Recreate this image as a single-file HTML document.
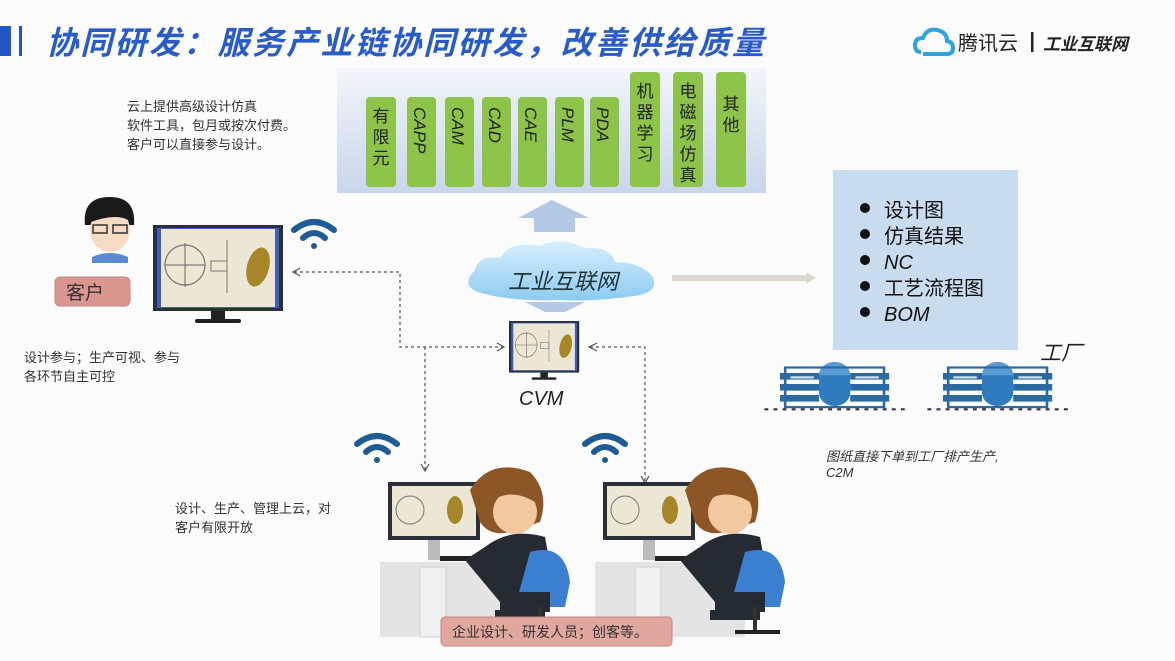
<!DOCTYPE html>
<html><head><meta charset="utf-8"><style>
body{margin:0;width:1175px;height:661px;overflow:hidden;background:#fbfbfb;font-family:"Liberation Sans","Noto Sans CJK SC",sans-serif;}
svg{position:absolute;left:0;top:0}
</style></head><body>
<svg width="1175" height="661" viewBox="0 0 1175 661" font-family="Liberation Sans, Noto Sans CJK SC, sans-serif">
<defs>
<linearGradient id="pg" x1="0" y1="0" x2="0" y2="1"><stop offset="0" stop-color="#f2f5fa"/><stop offset="1" stop-color="#c9d6ea"/></linearGradient>
<linearGradient id="cl" x1="0" y1="0" x2="0" y2="1"><stop offset="0" stop-color="#d8efff"/><stop offset="1" stop-color="#8ccbf0"/></linearGradient>
<g id="mon">
<rect x="0" y="0" width="130" height="86" fill="#2b2f3a"/>
<rect x="4" y="3" width="122" height="80" fill="#3b5fbf"/>
<rect x="8" y="4" width="114" height="78" fill="#ece7d5"/>
<circle cx="32" cy="40" r="20" fill="none" stroke="#777" stroke-width="1.2"/>
<line x1="12" y1="40" x2="52" y2="40" stroke="#666"/><line x1="32" y1="18" x2="32" y2="62" stroke="#666"/>
<rect x="58" y="36" width="16" height="10" fill="none" stroke="#777"/><line x1="74" y1="15" x2="74" y2="68" stroke="#777"/>
<ellipse cx="105" cy="42" rx="11" ry="20" fill="#a7862a" transform="rotate(15 105 42)"/>
<rect x="58" y="86" width="14" height="8" fill="#222"/><rect x="42" y="94" width="46" height="4" rx="2" fill="#222"/>
</g>
<g id="wifi" fill="none" stroke="#1f5c95" stroke-linecap="round">
<path d="M-20 -6 Q0 -22 20 -6" stroke-width="6"/><path d="M-11 2 Q0 -8 11 2" stroke-width="6"/><circle cx="0" cy="10" r="3" fill="#1f5c95" stroke="none"/>
</g>
<g id="worker">
<rect x="0" y="80" width="150" height="75" fill="#e4e4e4"/>
<rect x="40" y="85" width="26" height="70" fill="#f0f0f0" stroke="#d0d0d0"/>
<rect x="8" y="0" width="92" height="58" fill="#2b2f3a"/><rect x="12" y="4" width="84" height="50" fill="#ece7d5"/>
<ellipse cx="75" cy="28" rx="8" ry="14" fill="#a7862a"/>
<circle cx="30" cy="28" r="14" fill="none" stroke="#777"/>
<rect x="48" y="58" width="12" height="20" fill="#bbb"/><rect x="60" y="74" width="40" height="5" fill="#222"/>
<path d="M90 8 Q110 -25 150 -10 Q170 10 160 40 L130 50 Q110 55 100 40 Z" fill="#8c5626"/>
<ellipse cx="135" cy="30" rx="22" ry="22" fill="#f1c8a0"/>
<path d="M92 10 Q120 -20 158 5 L155 20 Q130 5 110 20 Z" fill="#8c5626"/>
<path d="M105 65 Q130 45 165 55 L175 110 L120 120 Q95 90 85 78 Z" fill="#262a33"/>
<path d="M150 70 Q185 60 190 100 L185 125 L135 125 Z" fill="#3a7fd0"/>
<rect x="120" y="110" width="50" height="20" fill="#262a33"/>
<rect x="115" y="128" width="50" height="10" fill="#262a33"/>
<line x1="160" y1="125" x2="160" y2="150" stroke="#333" stroke-width="4"/>
<line x1="140" y1="150" x2="185" y2="150" stroke="#222" stroke-width="4"/>
</g>
<g id="bld">
<rect x="30" y="0" width="24" height="40" rx="12" fill="#2f7bbd"/>
<path d="M30 12 A12 12 0 0 1 54 12" fill="#5a9bd6"/>
<g fill="#2b6aa1">
<rect x="0" y="10" width="30" height="6"/><rect x="0" y="20" width="30" height="6"/><rect x="0" y="30" width="30" height="6"/>
<rect x="54" y="10" width="30" height="6"/><rect x="54" y="20" width="30" height="6"/><rect x="54" y="30" width="30" height="6"/>
<rect x="4" y="5" width="76" height="36" fill="none" stroke="#2b6aa1" stroke-width="2"/>
</g>
<rect x="8" y="13" width="18" height="2" fill="#cfe3f5"/><rect x="58" y="13" width="18" height="2" fill="#cfe3f5"/>
<line x1="-12" y1="43" x2="96" y2="43" stroke="#334" stroke-width="2" stroke-dasharray="3 4"/>
</g>
</defs>

<!-- header -->
<rect x="0" y="26" width="11" height="30" fill="#2255c5"/>
<rect x="19" y="26" width="3" height="30" fill="#2255c5"/>
<text x="46" y="54" font-size="32" font-weight="bold" font-style="italic" fill="#2a5cc8" letter-spacing="2.3">协同研发：服务产业链协同研发，改善供给质量</text>
<g transform="translate(915,28)"><path d="M6 24 Q0 24 0 17 Q0 10 8 10 Q12 0 22 2 Q32 4 32 13 Q38 14 38 20 Q38 26 32 26 L8 26" fill="none" stroke="#2fa3e0" stroke-width="4"/></g>
<text x="958" y="50" font-size="20" fill="#222">腾讯云</text>
<rect x="1031" y="32" width="2.5" height="20" fill="#222"/>
<text x="1043" y="50" font-size="17" font-weight="bold" font-style="italic" fill="#222">工业互联网</text>

<!-- tool panel -->
<rect x="337" y="68" width="429" height="125" fill="url(#pg)"/>
<g fill="#8ec34a">
<rect x="366" y="97" width="30" height="90" rx="4"/><rect x="407" y="97" width="29" height="90" rx="4"/>
<rect x="445" y="97" width="29" height="90" rx="4"/><rect x="482" y="97" width="29" height="90" rx="4"/>
<rect x="518" y="97" width="29" height="90" rx="4"/><rect x="555" y="97" width="29" height="90" rx="4"/>
<rect x="590" y="97" width="29" height="90" rx="4"/><rect x="630" y="72" width="30" height="115" rx="4"/>
<rect x="673" y="72" width="30" height="115" rx="4"/><rect x="716" y="72" width="30" height="115" rx="4"/>
</g>
<g font-size="17" fill="#222" text-anchor="middle">
<text x="381" y="122">有</text><text x="381" y="143">限</text><text x="381" y="164">元</text>
<text x="645" y="97">机</text><text x="645" y="118">器</text><text x="645" y="139">学</text><text x="645" y="160">习</text>
<text x="688" y="97">电</text><text x="688" y="118">磁</text><text x="688" y="139">场</text><text x="688" y="160">仿</text><text x="688" y="181">真</text>
<text x="731" y="110">其</text><text x="731" y="131">他</text>
</g>
<g font-size="17" font-style="italic" fill="#222">
<text transform="translate(414,107) rotate(90)">CAPP</text>
<text transform="translate(452,107) rotate(90)">CAM</text>
<text transform="translate(489,107) rotate(90)">CAD</text>
<text transform="translate(525,107) rotate(90)">CAE</text>
<text transform="translate(562,107) rotate(90)">PLM</text>
<text transform="translate(597,107) rotate(90)">PDA</text>
</g>

<g font-size="13" fill="#333">
<text x="127" y="111">云上提供高级设计仿真</text>
<text x="127" y="130">软件工具，包月或按次付费。</text>
<text x="127" y="149">客户可以直接参与设计。</text>
</g>

<!-- up arrow -->
<path d="M518 218 L552 200 L589 218 L575 218 L575 232 L534 232 L534 218 Z" fill="#b3c9e6"/>
<!-- cloud -->
<path d="M478 292 Q460 285 475 270 Q478 255 500 258 Q510 240 540 246 Q560 236 585 248 Q610 246 615 262 Q640 262 652 276 Q660 290 640 295 Q600 302 560 300 Q510 302 478 292 Z" fill="url(#cl)"/>
<text x="508" y="289" font-size="22" font-style="italic" fill="#233">工业互联网</text>
<path d="M525 302 L585 302 L565 312 L545 312 Z" fill="#b3c9e6"/>
<!-- right arrow -->
<rect x="672" y="275" width="135" height="6" fill="#dcd8cc"/><path d="M806 272 L816 278 L806 284 Z" fill="#dcd8cc"/>

<!-- right box -->
<rect x="833" y="170" width="185" height="180" fill="#c9dcef"/>
<g font-size="20" fill="#111">
<circle cx="865" cy="208" r="5"/><text x="884" y="217">设计图</text>
<circle cx="865" cy="234" r="5"/><text x="884" y="243">仿真结果</text>
<circle cx="865" cy="260" r="5"/><text x="884" y="269" font-style="italic">NC</text>
<circle cx="865" cy="286" r="5"/><text x="884" y="295">工艺流程图</text>
<circle cx="865" cy="312" r="5"/><text x="884" y="321" font-style="italic">BOM</text>
</g>
<text x="1040" y="360" font-size="21" font-style="italic" fill="#222">工厂</text>
<use href="#bld" transform="translate(780,362) scale(1.3,1.1)"/>
<use href="#bld" transform="translate(943,362) scale(1.3,1.1)"/>
<g font-size="13" fill="#333" font-style="italic"><text x="826" y="461">图纸直接下单到工厂排产生产,</text><text x="826" y="477">C2M</text></g>

<!-- customer -->
<g transform="translate(110,225)">
<path d="M-25 0 Q-28 -28 0 -28 Q26 -28 24 0 Z" fill="#1a1a1a"/>
<ellipse cx="0" cy="5" rx="20" ry="22" fill="#f6dcc4"/>
<path d="M-22 -2 Q-20 -26 0 -24 Q22 -26 22 -2 Q10 -14 -22 -2 Z" fill="#1a1a1a"/>
<rect x="-17" y="0" width="14" height="8" fill="none" stroke="#333" stroke-width="1.5"/><rect x="3" y="0" width="14" height="8" fill="none" stroke="#333" stroke-width="1.5"/>
<path d="M-18 32 Q0 24 18 32 L18 38 L-18 38 Z" fill="#5b8ad0"/>
</g>
<rect x="55" y="277" width="75" height="29" rx="5" fill="#d9978f" stroke="#c58580"/>
<text x="66" y="299" font-size="19" fill="#333">客户</text>
<use href="#mon" transform="translate(153,225)"/>
<use href="#wifi" transform="translate(314,236)"/>
<g font-size="13" fill="#333"><text x="24" y="362">设计参与；生产可视、参与</text><text x="24" y="381">各环节自主可控</text></g>

<!-- CVM -->
<use href="#mon" transform="translate(509,321) scale(0.54,0.6)"/>
<text x="519" y="405" font-size="20" font-style="italic" fill="#222">CVM</text>

<!-- dashed connectors -->
<g fill="none" stroke="#555" stroke-width="1.2" stroke-dasharray="3 3">
<path d="M294 272 L400 272 L400 347 L503 347"/>
<path d="M425 347 L425 470"/>
<path d="M590 347 L645 347 L645 482"/>
</g>
<g fill="none" stroke="#555" stroke-width="1.2">
<path d="M300 268 L293 272 L300 276"/><path d="M497 343 L504 347 L497 351"/>
<path d="M597 343 L589 347 L597 351"/><path d="M421 464 L425 471 L429 464"/><path d="M641 476 L645 483 L649 476"/>
</g>

<!-- workers -->
<use href="#wifi" transform="translate(377,450)"/>
<use href="#wifi" transform="translate(605,450)"/>
<use href="#worker" transform="translate(380,482)"/>
<use href="#worker" transform="translate(595,482)"/>
<g font-size="13" fill="#333"><text x="175" y="513">设计、生产、管理上云，对</text><text x="175" y="532">客户有限开放</text></g>

<rect x="441" y="617" width="231" height="29" rx="4" fill="#e0a79f" stroke="#c5867f"/>
<text x="452" y="637" font-size="14" fill="#333">企业设计、研发人员；创客等。</text>
</svg>
</body></html>
